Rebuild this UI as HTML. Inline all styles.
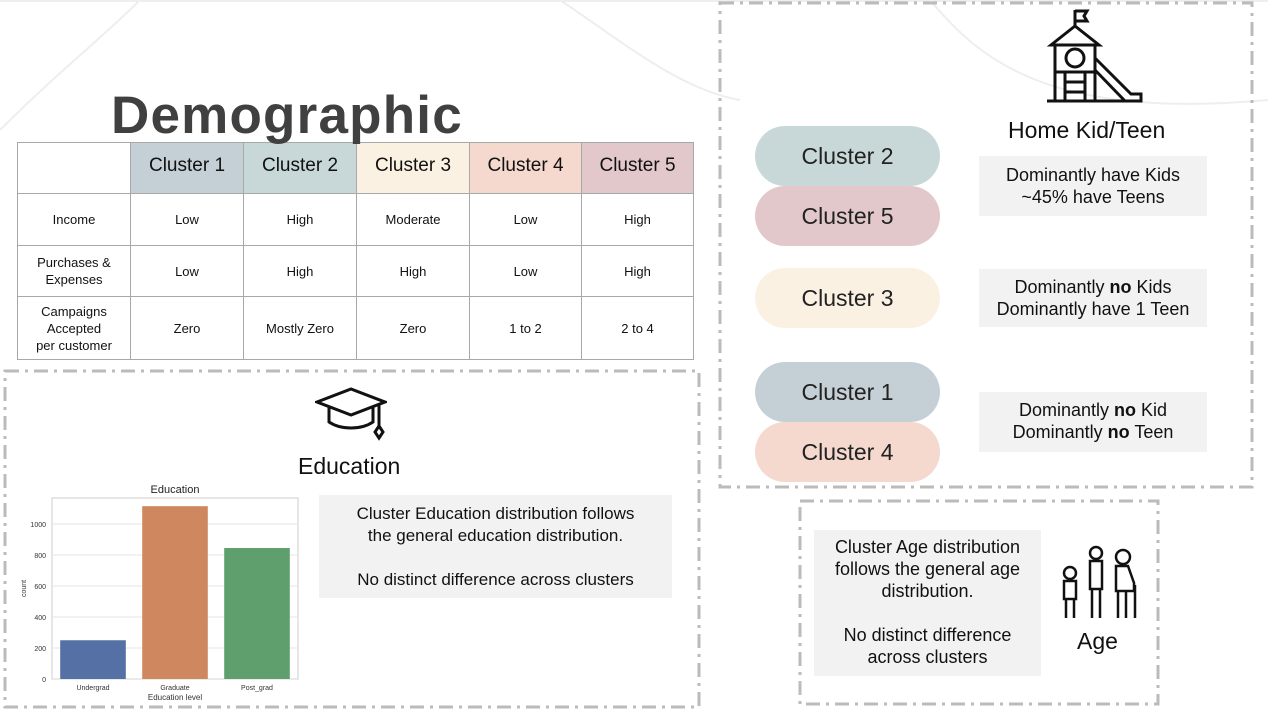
<!DOCTYPE html>
<html><head><meta charset="utf-8"><style>
body{margin:0;width:1268px;height:714px;background:#fff;position:relative;overflow:hidden;font-family:"Liberation Sans",sans-serif;color:#111}
.abs{position:absolute}
table{border-collapse:collapse;position:absolute;left:17px;top:142px;table-layout:fixed}
td{border:1.5px solid #a8a8a8;text-align:center;font-size:13px;padding:0;line-height:17px}
th{border:1.5px solid #a8a8a8;font-weight:normal;font-size:19px;padding-bottom:6px}
.pill{position:absolute;width:185px;height:60px;border-radius:30px;font-size:23px;display:flex;align-items:center;justify-content:center;color:#222}
.note{position:absolute;background:#f2f2f2;font-size:18px;text-align:center;line-height:22px;box-sizing:border-box}
</style></head><body>
<svg class="abs" style="left:0;top:0" width="1268" height="714">
<line x1="0" y1="1" x2="1268" y2="1" stroke="#ddd"/>
<path d="M0,130 C60,70 100,40 140,0" stroke="#eee" fill="none" stroke-width="2"/>
<path d="M560,0 C620,40 680,90 740,100" stroke="#eee" fill="none" stroke-width="2"/>
<path d="M930,0 C980,60 1050,120 1268,100" stroke="#eee" fill="none" stroke-width="2"/>
<rect x="5" y="371" width="694" height="336" fill="none" stroke="#bbb" stroke-width="3" stroke-dasharray="14,6,3,6"/>
<rect x="720" y="3" width="532" height="484" fill="none" stroke="#bbb" stroke-width="3" stroke-dasharray="14,6,3,6"/>
<rect x="800" y="501" width="358" height="203" fill="none" stroke="#bbb" stroke-width="3" stroke-dasharray="14,6,3,6"/>
</svg>
<div class="abs" style="left:111px;top:85px;font-size:53px;font-weight:bold;color:#404040;letter-spacing:1.2px;font-family:'Liberation Sans',sans-serif;z-index:2">Demographic</div>
<table>
<colgroup><col style="width:113px"><col style="width:113px"><col style="width:113px"><col style="width:113px"><col style="width:112px"><col style="width:112px"></colgroup>
<tr style="height:51px"><th></th><th style="background:#c5d0d6">Cluster 1</th><th style="background:#c8d8d8">Cluster 2</th><th style="background:#fbf1e3">Cluster 3</th><th style="background:#f5d8ce">Cluster 4</th><th style="background:#e3c8cb">Cluster 5</th></tr>
<tr style="height:52px"><td>Income</td><td>Low</td><td>High</td><td>Moderate</td><td>Low</td><td>High</td></tr>
<tr style="height:51px"><td>Purchases &amp;<br>Expenses</td><td>Low</td><td>High</td><td>High</td><td>Low</td><td>High</td></tr>
<tr style="height:63px"><td>Campaigns<br>Accepted<br>per customer</td><td>Zero</td><td>Mostly Zero</td><td>Zero</td><td>1 to 2</td><td>2 to 4</td></tr>
</table>
<svg class="abs" style="left:315px;top:386px" width="72" height="58" fill="none" stroke="#111" stroke-width="3">
<path d="M2,16 L36,3 L70,16 L36,29 Z"/><path d="M14,21 V36 C26,44 46,44 58,36 V21"/><path d="M64,18 V40"/><path d="M64,40 l-4,6 4,6 4,-6 z"/>
</svg>
<div class="abs" style="left:298px;top:453px;font-size:23px">Education</div>
<div class="note" style="left:319px;top:495px;width:353px;height:103px;font-size:17px;padding-top:8px">Cluster Education distribution follows<br>the general education distribution.<br><br>No distinct difference across clusters</div>
<svg class="abs" id="chart" style="left:0;top:470px" width="310" height="240"></svg>
<script>
const categories=["Undergrad","Graduate","Post_grad"];
const counts=[250,1115,845];
const yTicks=[0,200,400,600,800,1000];
const colors=["#5470a4","#cf8760","#5f9f6d"];
const svg=document.getElementById('chart');const ns="http://www.w3.org/2000/svg";
const L=52,R=298,T=28,B=209;
const y=v=>B-v*155/1000;
function mk(t,a,txt){const e=document.createElementNS(ns,t);for(const k in a)e.setAttribute(k,a[k]);if(txt!==undefined)e.textContent=txt;svg.appendChild(e);return e;}
const bg=mk('rect',{x:L,y:T,width:R-L,height:B-T,fill:'#fff',stroke:'#ddd','stroke-width':1.5});


yTicks.forEach(v=>{const g=mk('line',{x1:L,x2:R,y1:y(v),y2:y(v),stroke:'#e6e6e6','stroke-width':1});


const t=mk('text',{x:L-6,y:y(v)+3,'font-size':7,'text-anchor':'end',fill:'#333'},v);

});
const step=(R-L)/categories.length;
categories.forEach((c,i)=>{const x=L+step*i+step*0.1;const r=mk('rect',{x:x,y:y(counts[i]),width:step*0.8,height:B-y(counts[i]),fill:colors[i]});


const t=mk('text',{x:L+step*(i+0.5),y:B+11,'font-size':7,'text-anchor':'middle',fill:'#333'},c);

});
const tt=mk('text',{x:(L+R)/2,y:T-5,'font-size':11,'text-anchor':'middle',fill:'#222'},'Education');


const xt=mk('text',{x:(L+R)/2,y:B+21,'font-size':8,'text-anchor':'middle',fill:'#333'},'Education level');


const yt=mk('text',{x:0,y:0,'font-size':7,'text-anchor':'middle',fill:'#333',transform:'translate(26,'+((T+B)/2)+') rotate(-90)'},'count');


</script>
<svg class="abs" style="left:1045px;top:8px" width="100" height="96" fill="none" stroke="#111" stroke-width="3">
<path d="M30,2 V18"/><path d="M30,3 H42 L39,8 42,13 H30"/>
<path d="M6,37 L30,18 L54,37 Z"/><path d="M10,37 V93 M50,37 V93"/><circle cx="30" cy="50" r="9"/>
<path d="M10,64 H50"/><path d="M20,64 V93 M40,64 V93 M20,74 H40 M20,84 H40"/>
<path d="M50,50 L86,86 H96 V93 H2"/><path d="M50,62 L80,93"/>
</svg>
<div class="abs" style="left:1008px;top:117px;font-size:23px">Home Kid/Teen</div>
<div class="pill" style="left:755px;top:126px;background:#c8d8d8">Cluster 2</div>
<div class="pill" style="left:755px;top:186px;background:#e3c8cb">Cluster 5</div>
<div class="pill" style="left:755px;top:268px;background:#fbf1e3">Cluster 3</div>
<div class="pill" style="left:755px;top:362px;background:#c5d0d6">Cluster 1</div>
<div class="pill" style="left:755px;top:422px;background:#f5d8ce">Cluster 4</div>
<div class="note" style="left:979px;top:156px;width:228px;height:60px;padding-top:8px">Dominantly have Kids<br>~45% have Teens</div>
<div class="note" style="left:979px;top:269px;width:228px;height:58px;padding-top:7px">Dominantly <b>no</b> Kids<br>Dominantly have 1 Teen</div>
<div class="note" style="left:979px;top:392px;width:228px;height:60px;padding-top:7px">Dominantly <b>no</b> Kid<br>Dominantly <b>no</b> Teen</div>
<div class="note" style="left:814px;top:530px;width:227px;height:146px;padding-top:6px">Cluster Age distribution<br>follows the general age<br>distribution.<br><br>No distinct difference<br>across clusters</div>
<svg class="abs" style="left:1060px;top:543px" width="80" height="78" fill="none" stroke="#111" stroke-width="2.5">
<circle cx="10" cy="30" r="6"/><path d="M4,38 H16 V56 H4 Z M6,56 V75 M14,56 V75"/>
<circle cx="36" cy="10" r="6"/><path d="M30,18 H42 V46 H30 Z M32,46 V75 M40,46 V75"/>
<circle cx="63" cy="14" r="7"/><path d="M56,23 H68 L74,40 V48 H56 Z M58,48 V75 M66,48 V75 M75,42 V75"/>
</svg>
<div class="abs" style="left:1077px;top:628px;font-size:23px">Age</div>
</body></html>
